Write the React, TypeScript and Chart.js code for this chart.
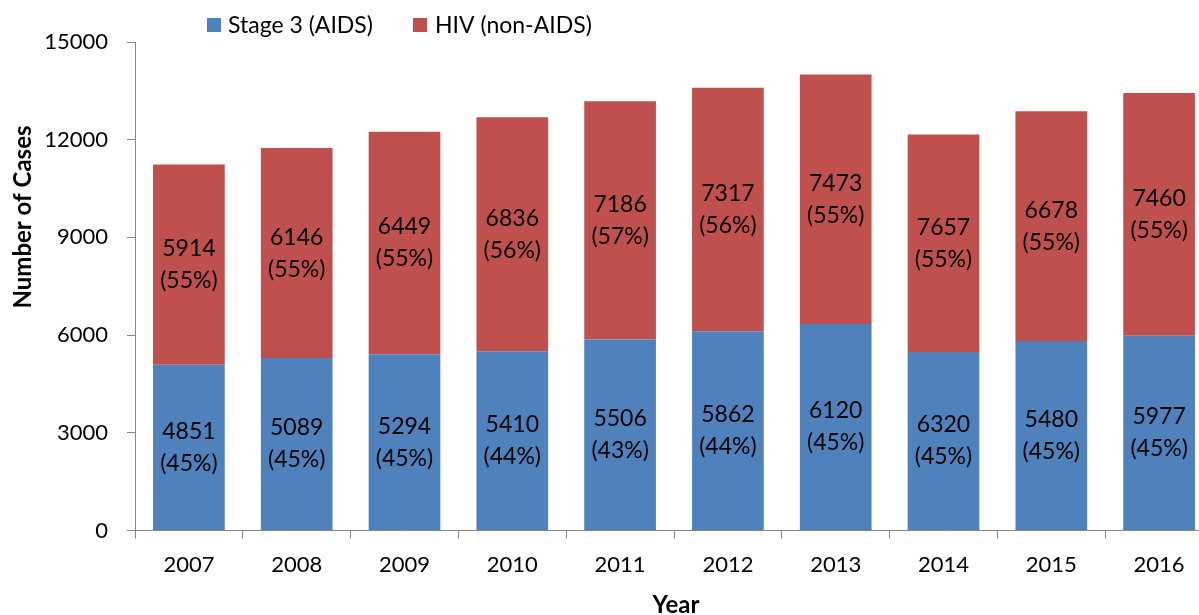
import React, { useEffect, useRef } from "react";
import { Chart, registerables } from "chart.js";

Chart.register(...registerables);

const years = ["2007", "2008", "2009", "2010", "2011", "2012", "2013", "2014", "2015", "2016"];
// Bar heights as drawn in the picture
const stage3Bars = [5089, 5294, 5410, 5506, 5862, 6120, 6340, 5480, 5816, 5977];
const hivBars = [6146, 6449, 6836, 7186, 7317, 7473, 7660, 6678, 7057, 7460];
// Data label texts as printed in the picture
const stage3LabelCounts = [4851, 5089, 5294, 5410, 5506, 5862, 6120, 6320, 5480, 5977];
const stage3LabelPcts = [45, 45, 45, 44, 43, 44, 45, 45, 45, 45];
const hivLabelCounts = [5914, 6146, 6449, 6836, 7186, 7317, 7473, 7657, 6678, 7460];
const hivLabelPcts = [55, 55, 55, 56, 57, 56, 55, 55, 55, 55];
const yMin = 0;
const yMax = 15000;
const yStep = 3000;

const seriesNames = ["Stage 3 (AIDS)", "HIV (non-AIDS)"];
const seriesColors = ["#4F81BD", "#C0504D"];
const axisColor = "#868686";
const FONT = "Lato";

const labelPlugin = {
  id: "segmentLabels",
  afterDatasetsDraw(chart: any) {
    const ctx = chart.ctx;
    const sets = [
      [stage3LabelCounts, stage3LabelPcts],
      [hivLabelCounts, hivLabelPcts],
    ];
    ctx.save();
    ctx.font = `23px ${FONT}`;
    ctx.fillStyle = "#000";
    ctx.textAlign = "center";
    ctx.textBaseline = "middle";
    chart.data.datasets.forEach((_ds: any, di: number) => {
      const meta = chart.getDatasetMeta(di);
      const [counts, pcts] = sets[di];
      meta.data.forEach((el: any, i: number) => {
        const { x, y, base } = el.getProps(["x", "y", "base"], true);
        const cy = (y + base) / 2;
        ctx.fillText(String(counts[i]), x, cy - 16);
        ctx.fillText(`(${pcts[i]}%)`, x, cy + 16);
      });
    });
    ctx.restore();
  },
};

const decorPlugin = {
  id: "decor",
  afterDraw(chart: any) {
    const ctx = chart.ctx;
    ctx.save();
    // Legend
    const items = [
      { box: 207, text: 228 },
      { box: 413, text: 435 },
    ];
    ctx.font = `23px ${FONT}`;
    ctx.textBaseline = "middle";
    ctx.textAlign = "left";
    chart.data.datasets.forEach((ds: any, i: number) => {
      ctx.fillStyle = ds.backgroundColor;
      ctx.fillRect(items[i].box, 18, 14, 14);
      ctx.fillStyle = "#000";
      ctx.fillText(ds.label, items[i].text, 26);
    });
    // Axis titles
    ctx.font = `bold 24px ${FONT}`;
    ctx.fillStyle = "#000";
    ctx.textAlign = "center";
    ctx.textBaseline = "alphabetic";
    ctx.fillText("Year", 676, 613);
    ctx.translate(31, 217);
    ctx.rotate(-Math.PI / 2);
    ctx.fillText("Number of Cases", 0, 0);
    ctx.restore();
  },
};

export default function App() {
  const ref = useRef<HTMLCanvasElement | null>(null);

  useEffect(() => {
    document.body.style.margin = "0";
    const canvas = ref.current;
    if (!canvas) return;
    const chart = new Chart(canvas, {
      type: "bar",
      data: {
        labels: years,
        datasets: [
          {
            label: seriesNames[0],
            data: stage3Bars,
            backgroundColor: seriesColors[0],
            borderWidth: 0,
            barPercentage: 0.665,
            categoryPercentage: 1,
          },
          {
            label: seriesNames[1],
            data: hivBars,
            backgroundColor: seriesColors[1],
            borderWidth: 0,
            barPercentage: 0.665,
            categoryPercentage: 1,
          },
        ],
      },
      options: {
        responsive: false,
        animation: false,
        devicePixelRatio: 1,
        layout: { padding: { top: 42, right: 7, left: 0, bottom: 0 } },
        plugins: {
          legend: { display: false },
          tooltip: { enabled: false },
          title: { display: false },
        },
        scales: {
          x: {
            stacked: true,
            afterFit: (s: any) => {
              s.height = 84.5;
            },
            grid: {
              offset: true,
              drawOnChartArea: false,
              drawTicks: true,
              tickLength: 8,
              color: axisColor,
            },
            border: { display: true, color: axisColor, width: 1 },
            ticks: {
              color: "#000",
              font: { family: FONT, size: 22 },
              padding: 13,
              maxRotation: 0,
            },
          },
          y: {
            stacked: true,
            min: yMin,
            max: yMax,
            afterFit: (s: any) => {
              s.width = 135;
            },
            grid: {
              drawOnChartArea: false,
              drawTicks: true,
              tickLength: 8,
              color: axisColor,
            },
            border: { display: true, color: axisColor, width: 1 },
            ticks: {
              stepSize: yStep,
              color: "#000",
              font: { family: FONT, size: 22 },
              padding: 19,
              callback: (v: any) => String(v),
            },
          },
        },
      },
      plugins: [labelPlugin, decorPlugin],
    });
    return () => chart.destroy();
  }, []);

  return (
    <div style={{ width: 1199, height: 615, overflow: "hidden", position: "relative", background: "#fff" }}>
      <canvas ref={ref} width={1220} height={615} style={{ display: "block", width: 1220, height: 615 }} />
    </div>
  );
}
